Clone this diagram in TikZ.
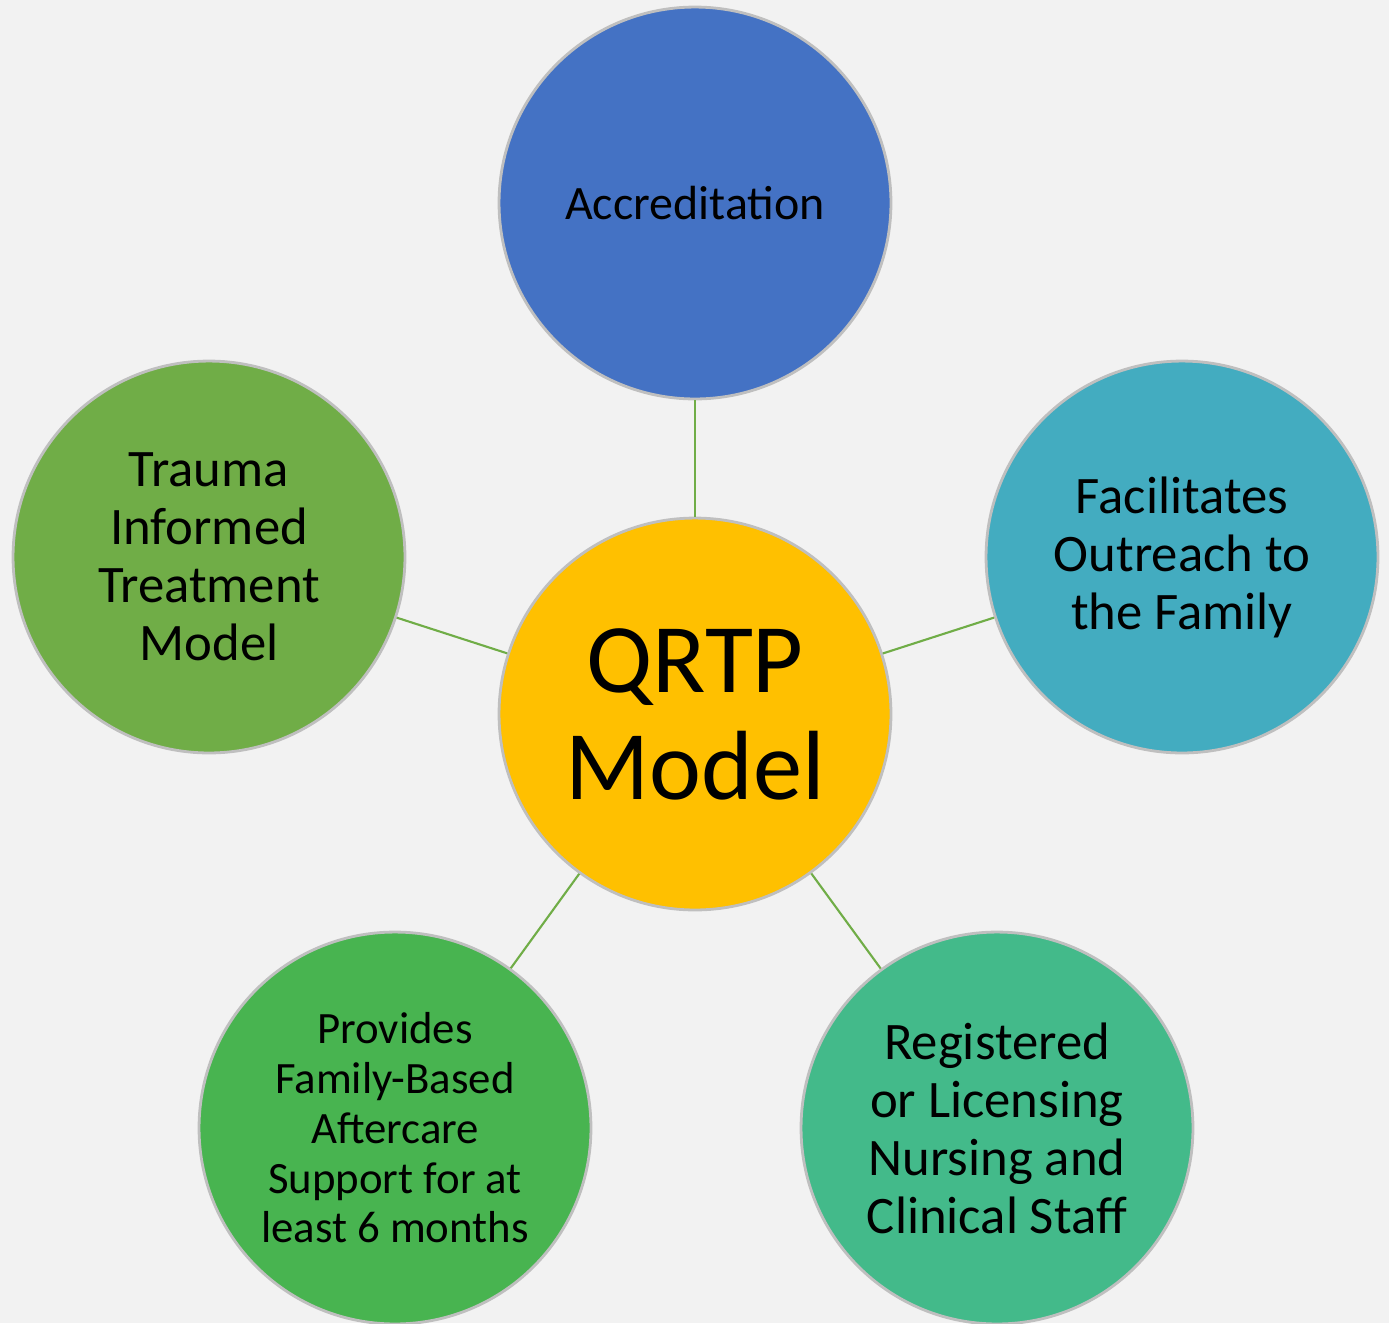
\documentclass[tikz,border=0pt]{standalone}
\usepackage{fontspec}
\setmainfont{Carlito}
\usetikzlibrary{positioning}
\definecolor{bgGray}{HTML}{F2F2F2}
\definecolor{rimGray}{HTML}{BFBFBF}
\definecolor{linkGreen}{HTML}{70AD47}
\definecolor{cAccr}{HTML}{4472C4}
\definecolor{cOutreach}{HTML}{43ACC0}
\definecolor{cNursing}{HTML}{43BA8A}
\definecolor{cAftercare}{HTML}{48B450}
\definecolor{cTrauma}{HTML}{70AD47}
\definecolor{cCore}{HTML}{FFC000}

\begin{document}
\begin{tikzpicture}[
  x=0.02cm, y=-0.02cm,
  bubble/.style={draw=rimGray, line width=1.6pt, circle, minimum size=7.84cm,
    inner sep=0pt, align=center, text=black,
    font=\fontsize{30}{33}\selectfont},
  small/.style={font=\fontsize{25.5}{28.3}\selectfont},
  single/.style={font=\fontsize{27.3}{33}\selectfont},
  core/.style={bubble, fill=cCore, font=\fontsize{56}{61}\selectfont},
  link/.style={draw=linkGreen, line width=1.2pt}
]
\fill[bgGray] (0,0) rectangle (1389,1323);
\useasboundingbox (0,0) rectangle (1389,1323);

% Center
\node[core] (qrtp) at (695,714) {QRTP\\Model};

% Surrounding bubbles
\node[bubble, single, fill=cAccr] (accr) at (695,203) {Accreditation};
\node[bubble, fill=cOutreach] (outreach) at (1182,557) {Facilitates\\Outreach to\\the Family};
\node[bubble, fill=cNursing] (nursing) at (997,1128) {Registered\\or Licensing\\Nursing and\\Clinical Staff};
\node[bubble, small, fill=cAftercare] (aftercare) at (395,1128) {Provides\\Family-Based\\Aftercare\\Support for at\\least 6 months};
\node[bubble, fill=cTrauma] (trauma) at (209,557) {Trauma\\Informed\\Treatment\\Model};

% Links
\foreach \n in {accr,outreach,nursing,aftercare,trauma}
  \draw[link] (qrtp) -- (\n);
\end{tikzpicture}
\end{document}
